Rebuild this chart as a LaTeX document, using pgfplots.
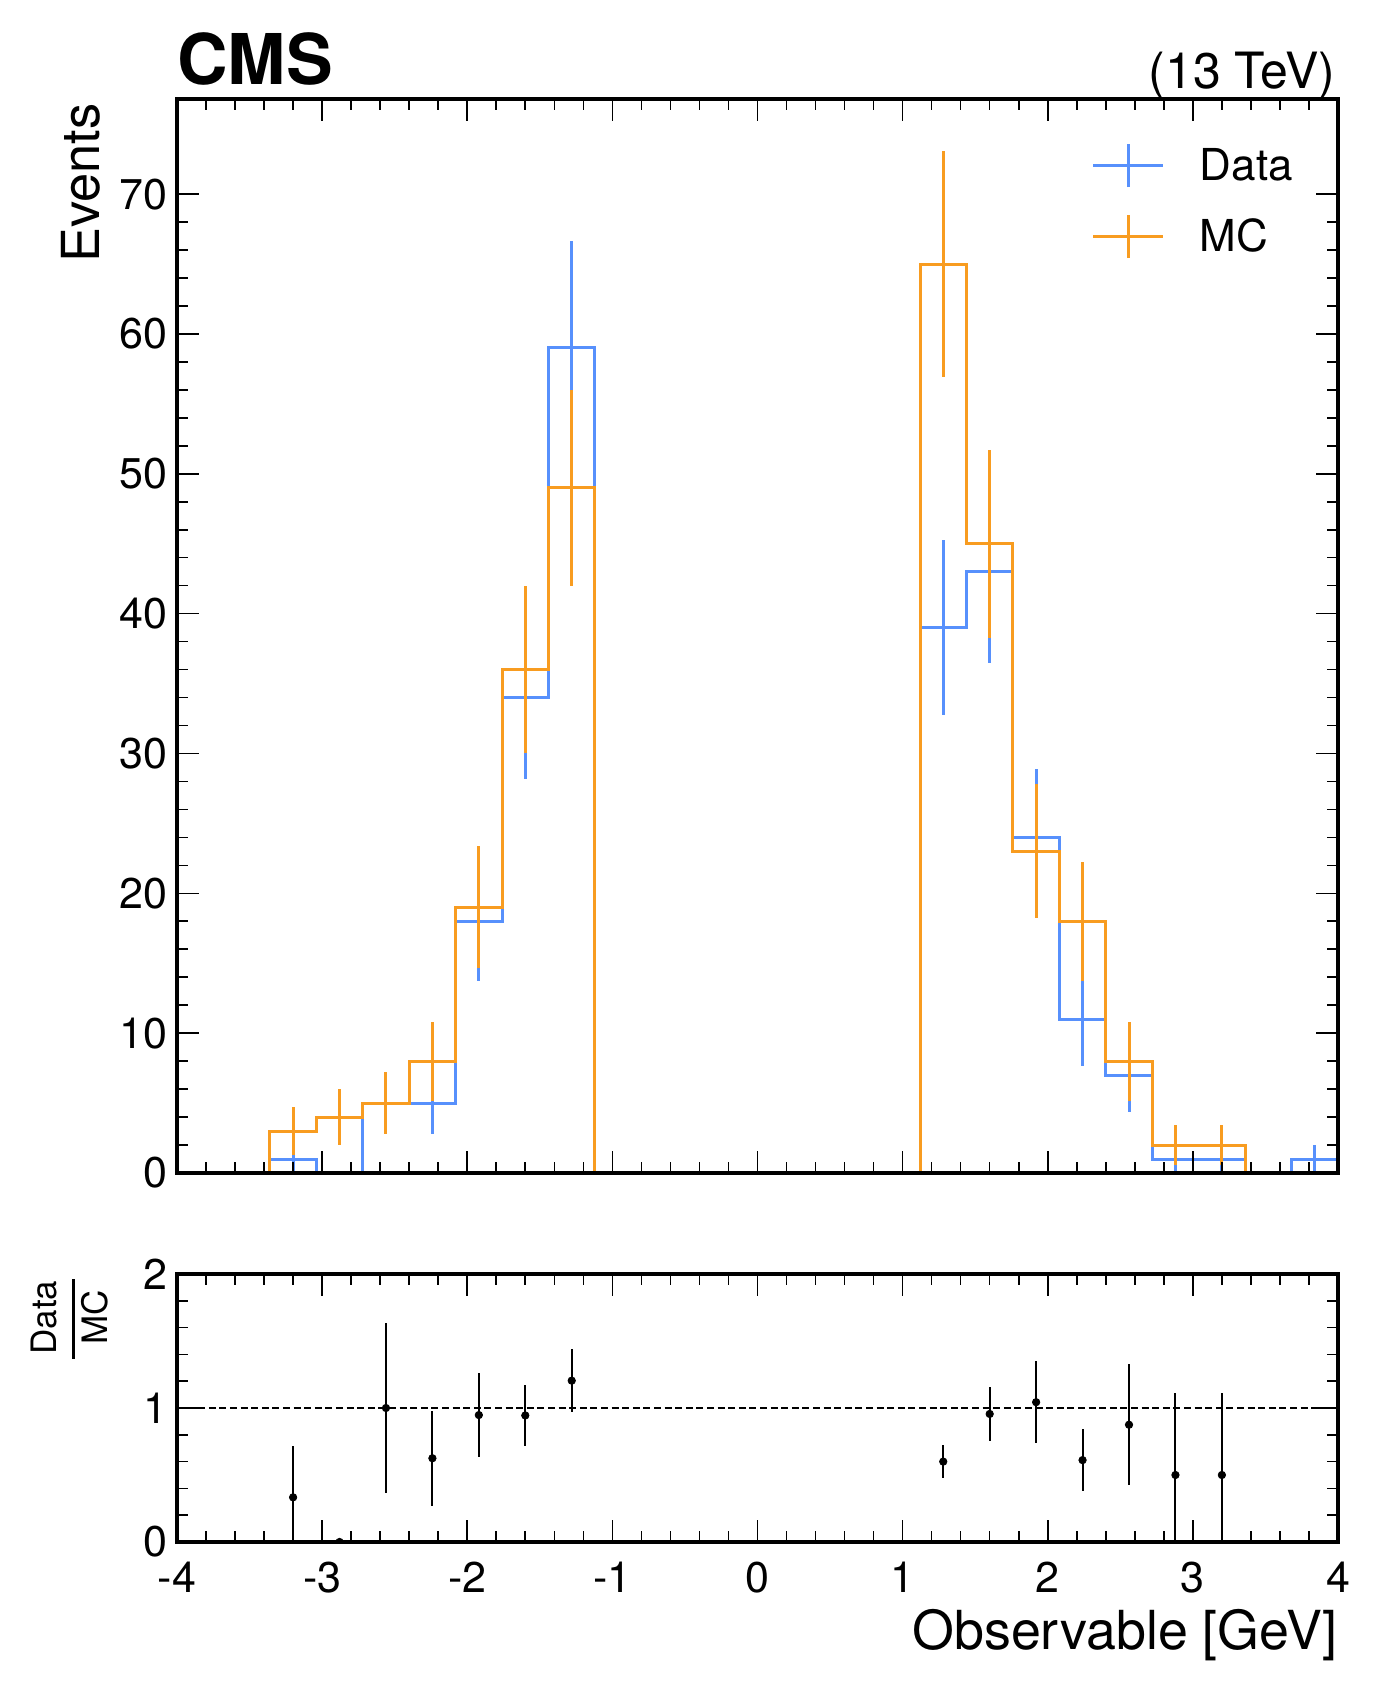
\documentclass[border=0pt]{standalone}
\usepackage{pgfplots}
\pgfplotsset{compat=1.18}
\usepackage{fontspec}
\setmainfont{TeX Gyre Heros}
\definecolor{cmsblue}{HTML}{5790FC}
\definecolor{cmsorange}{HTML}{F89C20}
\pgfplotsset{
  cmsaxis/.style={
    scale only axis, width=580.5pt,
    xmin=-4, xmax=4,
    axis on top,
    axis line style={line width=2.2pt, black},
    tick style={line width=0.8pt, black},
    major tick length=11pt, minor tick length=5.5pt,
    tick align=inside,
    xtick={-4,-3,-2,-1,0,1,2,3,4}, minor x tick num=4,
    minor y tick num=4,
    /pgf/number format/assume math mode=true,
    ticklabel style={font=\fontsize{21.5}{21.5}\selectfont, inner sep=0pt},
    yticklabel shift=4.5pt,
    xticklabel shift=10pt,
  }
}
\begin{document}
\begin{tikzpicture}
\begin{axis}[cmsaxis, name=main, height=537pt,
  ymin=0, ymax=76.8, ytick={0,10,20,30,40,50,60,70},
  xticklabels={},
  legend cell align=left,
  legend style={draw=none, fill=none, inner sep=0pt, outer sep=0pt,
    at={(0.788,0.9596)}, anchor=north west,
    font=\fontsize{22}{22}\selectfont, row sep=12.4pt, column sep=17.5pt,
    nodes={inner sep=0pt}},
]
\addplot[const plot, cmsblue, line width=1.5pt,
  legend image code/.code={\draw[cmsblue, line width=1.5pt] (0pt,0pt) -- (35pt,0pt); \draw[cmsblue, line width=1.5pt] (17.5pt,-10.8pt) -- (17.5pt,10.8pt);}]
coordinates {(-4,0) (-3.68,0) (-3.36,1) (-3.04,0) (-2.72,5) (-2.40,5) (-2.08,18) (-1.76,34) (-1.44,59) (-1.12,0) (-0.80,0) (-0.48,0) (-0.16,0) (0.16,0) (0.48,0) (0.80,0) (1.12,39) (1.44,43) (1.76,24) (2.08,11) (2.40,7) (2.72,1) (3.04,1) (3.36,0) (3.68,1) (4,1)};
\addlegendentry{Data}
\addplot[draw=none, mark=none, forget plot,
  error bars/.cd, y dir=both, y explicit, error mark=none,
  error bar style={draw=cmsblue, line width=1.5pt}]
coordinates {(-3.20,1) +- (0,1) (-2.56,5) +- (0,2.236) (-2.24,5) +- (0,2.236) (-1.92,18) +- (0,4.243) (-1.60,34) +- (0,5.831) (-1.28,59) +- (0,7.681) (1.28,39) +- (0,6.245) (1.60,43) +- (0,6.557) (1.92,24) +- (0,4.899) (2.24,11) +- (0,3.317) (2.56,7) +- (0,2.646) (2.88,1) +- (0,1) (3.20,1) +- (0,1) (3.84,1) +- (0,1)};
\addplot[const plot, cmsorange, line width=1.5pt,
  legend image code/.code={\draw[cmsorange, line width=1.5pt] (0pt,0pt) -- (35pt,0pt); \draw[cmsorange, line width=1.5pt] (17.5pt,-10.8pt) -- (17.5pt,10.8pt);}]
coordinates {(-4,0) (-3.68,0) (-3.36,3) (-3.04,4) (-2.72,5) (-2.40,8) (-2.08,19) (-1.76,36) (-1.44,49) (-1.12,0) (-0.80,0) (-0.48,0) (-0.16,0) (0.16,0) (0.48,0) (0.80,0) (1.12,65) (1.44,45) (1.76,23) (2.08,18) (2.40,8) (2.72,2) (3.04,2) (3.36,0) (3.68,0) (4,0)};
\addlegendentry{MC}
\addplot[draw=none, mark=none, forget plot,
  error bars/.cd, y dir=both, y explicit, error mark=none,
  error bar style={draw=cmsorange, line width=1.5pt}]
coordinates {(-3.20,3) +- (0,1.732) (-2.88,4) +- (0,2) (-2.56,5) +- (0,2.236) (-2.24,8) +- (0,2.828) (-1.92,19) +- (0,4.359) (-1.60,36) +- (0,6) (-1.28,49) +- (0,7) (1.28,65) +- (0,8.062) (1.60,45) +- (0,6.708) (1.92,23) +- (0,4.796) (2.24,18) +- (0,4.243) (2.56,8) +- (0,2.828) (2.88,2) +- (0,1.414) (3.20,2) +- (0,1.414)};
\end{axis}
\begin{axis}[cmsaxis, name=ratio, height=134pt,
  at={(main.south west)}, anchor=north west, yshift=-50.5pt,
  ymin=0, ymax=2, ytick={0,1,2},
  clip marker paths=true,
]
\addplot[black, line width=0.8pt, dash pattern=on 3.5pt off 1.8pt] coordinates {(-4,1) (4,1)};
\addplot[only marks, mark=*, mark size=1.85pt, black,
  error bars/.cd, y dir=both, y explicit, error mark=none,
  error bar style={black, line width=1pt}]
coordinates {(-3.20,0.3333) +- (0,0.3849) (-2.88,0) +- (0,0) (-2.56,1.0) +- (0,0.6325) (-2.24,0.625) +- (0,0.3563) (-1.92,0.9474) +- (0,0.3116) (-1.60,0.9444) +- (0,0.2258) (-1.28,1.2041) +- (0,0.2327) (1.28,0.6) +- (0,0.1215) (1.60,0.9556) +- (0,0.2038) (1.92,1.0435) +- (0,0.3045) (2.24,0.6111) +- (0,0.2339) (2.56,0.875) +- (0,0.4529) (2.88,0.5) +- (0,0.6124) (3.20,0.5) +- (0,0.6124)};
\end{axis}
\node[anchor=base west, inner sep=0pt, font=\fontsize{35}{35}\selectfont\bfseries] at ([yshift=7pt]main.north west) {CMS};
\node[anchor=base east, inner sep=0pt, font=\fontsize{25}{25}\selectfont] at ([xshift=-1pt,yshift=5pt]main.north east) {(13 TeV)};
\node[rotate=90, anchor=base east, inner sep=0pt, font=\fontsize{26.2}{26.2}\selectfont] at ([xshift=-38.5pt,yshift=-2pt]main.north west) {Events};
\node[anchor=base east, inner sep=0pt, font=\fontsize{26.9}{26.9}\selectfont] at ([xshift=0pt,yshift=-53.5pt]ratio.south east) {Observable [GeV]};
\node[rotate=90, anchor=base, inner sep=0pt, font=\fontsize{17.5}{17.5}\selectfont] at ([xshift=-60pt,yshift=-21.75pt]ratio.north west) {Data};
\draw[line width=1.8pt] ([xshift=-51.75pt,yshift=-2.5pt]ratio.north west) -- ([xshift=-51.75pt,yshift=-42.5pt]ratio.north west);
\node[rotate=90, anchor=base, inner sep=0pt, font=\fontsize{17.5}{17.5}\selectfont] at ([xshift=-34.5pt,yshift=-21.75pt]ratio.north west) {MC};
\pgfresetboundingbox
\path[use as bounding box] ([xshift=-88.5pt,yshift=49.5pt]main.north west) rectangle ([xshift=602pt,yshift=-797.5pt]main.north west);
\end{tikzpicture}
\end{document}
